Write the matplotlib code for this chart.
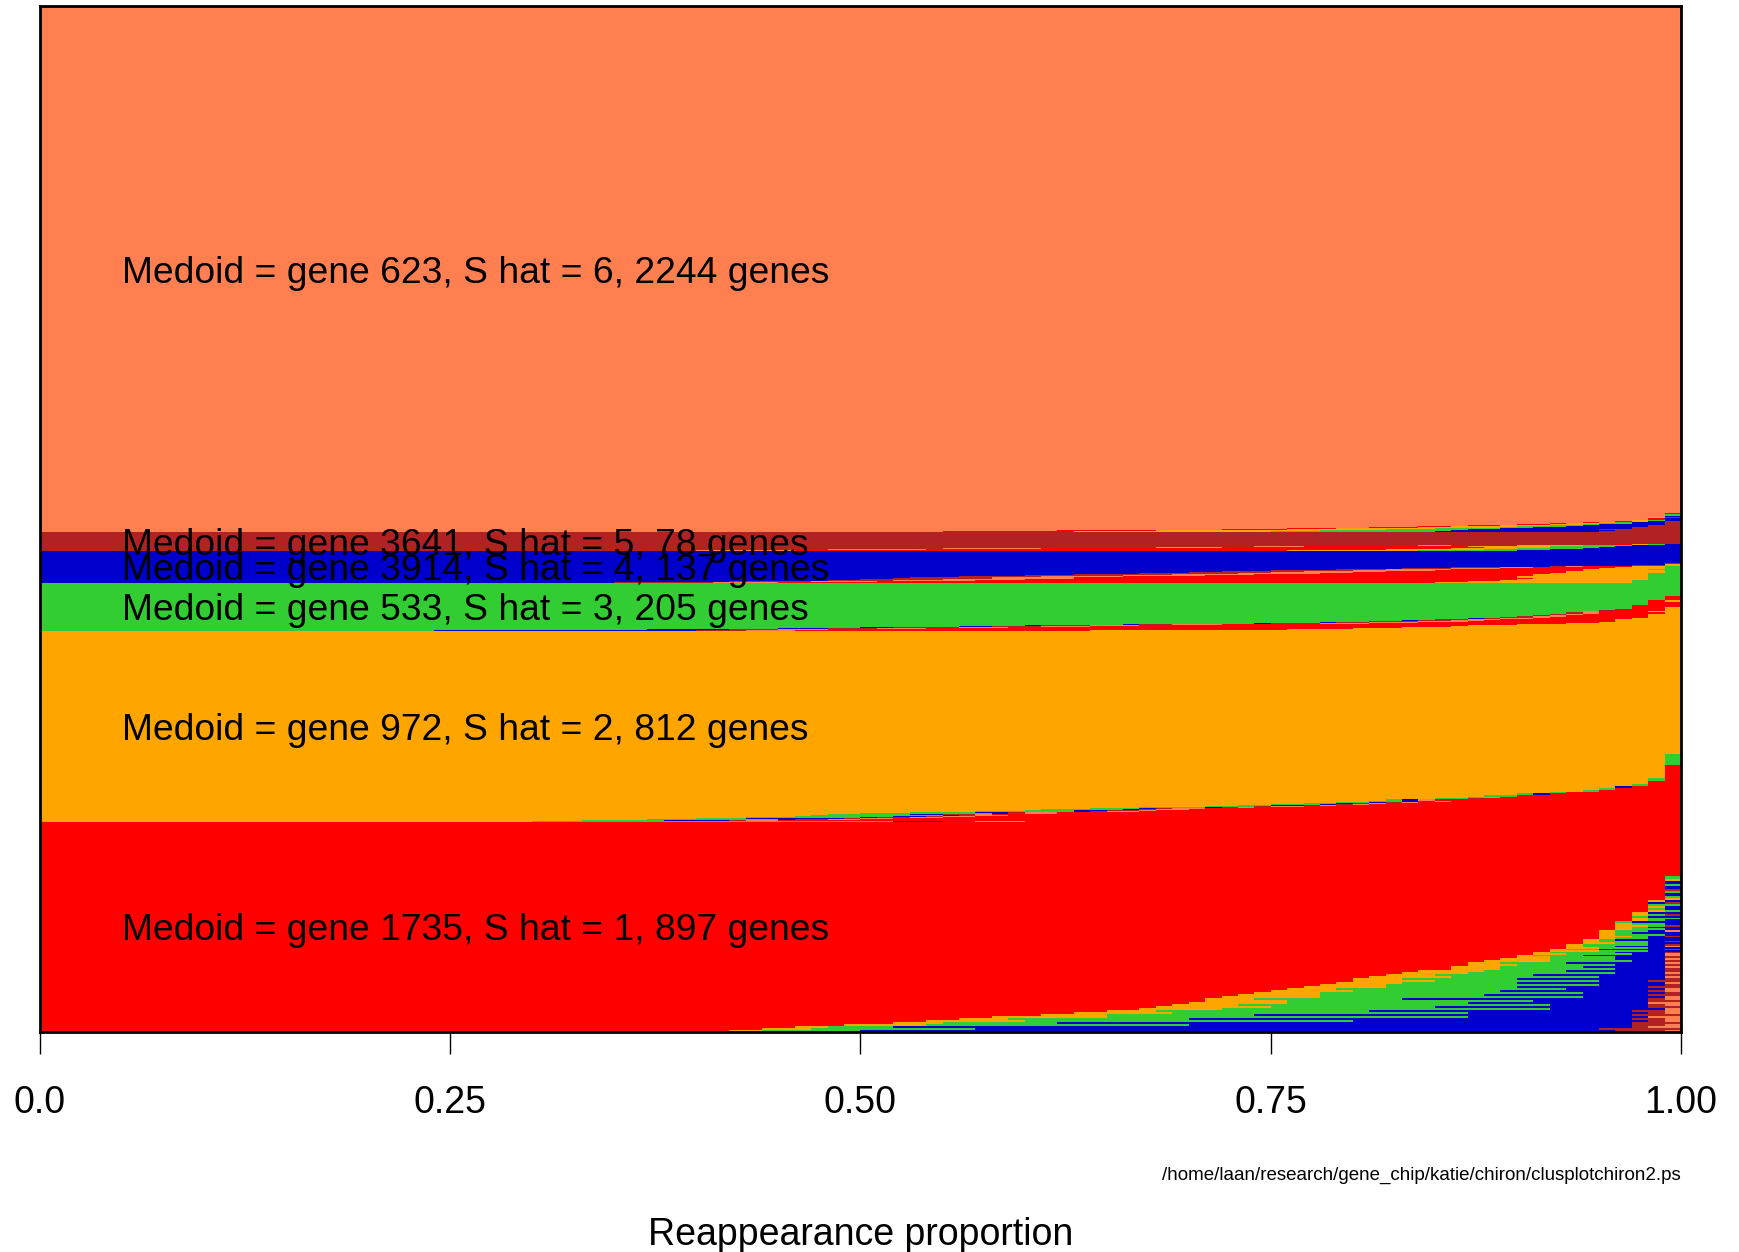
import matplotlib
matplotlib.use("Agg")
import matplotlib.pyplot as plt

plt.rcParams['font.family'] = ['Liberation Sans', 'DejaVu Sans']

# cluster order from bottom: S hat = 1 .. 6
cluster_colors = ['#FF0000', '#FFA500', '#32CD32', '#0000CD', '#B22222', '#FF7F50']
medoids = [1735, 972, 533, 3914, 3641, 623]
s_hat = [1, 2, 3, 4, 5, 6]
sizes = [897, 812, 205, 137, 78, 2244]

# each row: [number of genes, % in cluster 1, 2, 3, 4, 5, 6]  (bottom row first)
rows_c1 = [
    [9, 42, 2, 6, 46, 3, 1], [8, 44, 3, 10, 38, 5, 0], [9, 46, 2, 4, 45, 1, 2],
    [8, 49, 5, 16, 27, 2, 1], [9, 52, 3, 7, 35, 3, 0], [8, 54, 6, 20, 18, 1, 1],
    [9, 56, 3, 11, 27, 2, 1], [8, 58, 7, 22, 11, 0, 2], [9, 61, 4, 9, 23, 3, 0],
    [8, 63, 6, 18, 11, 1, 1], [9, 65, 3, 13, 16, 2, 1], [8, 67, 5, 20, 7, 0, 1],
    [9, 68, 7, 10, 13, 2, 0], [8, 69, 4, 19, 6, 1, 1], [9, 70, 6, 11, 11, 0, 2],
    [8, 71, 5, 15, 7, 2, 0], [9, 71, 3, 9, 15, 1, 1], [8, 72, 6, 16, 5, 0, 1],
    [9, 73, 5, 10, 10, 2, 0], [8, 74, 4, 16, 5, 1, 0], [9, 75, 5, 9, 9, 1, 1],
    [8, 76, 3, 14, 6, 0, 1], [9, 77, 5, 8, 8, 2, 0], [8, 78, 4, 13, 4, 1, 0],
    [9, 79, 4, 7, 9, 0, 1], [8, 80, 5, 10, 3, 2, 0], [9, 80, 3, 7, 9, 1, 0],
    [8, 81, 5, 9, 4, 0, 1], [9, 82, 3, 6, 8, 1, 0], [8, 83, 4, 9, 3, 0, 1],
    [9, 84, 4, 5, 6, 1, 0], [8, 86, 3, 7, 3, 1, 0], [9, 86, 3, 5, 5, 0, 1],
    [8, 87, 3, 6, 3, 1, 0], [9, 87, 2, 4, 6, 0, 1], [8, 88, 4, 5, 2, 1, 0],
    [9, 89, 3, 4, 3, 0, 1],
    [7, 90, 2, 4, 3, 1, 0], [6, 90, 1, 3, 5, 0, 1],
    [7, 91, 2, 4, 2, 0, 1], [6, 91, 1, 4, 3, 1, 0],
    [7, 92, 3, 3, 2, 0, 0], [6, 92, 1, 2, 4, 1, 0],
    [7, 93, 2, 3, 2, 0, 0], [7, 93, 1, 2, 3, 0, 1], [7, 93, 1, 4, 1, 1, 0],
    [7, 94, 2, 2, 2, 0, 0], [7, 94, 1, 3, 1, 1, 0], [7, 94, 1, 1, 4, 0, 0],
    [8, 95, 1, 2, 2, 0, 0], [7, 95, 2, 1, 1, 1, 0], [8, 95, 1, 3, 1, 0, 0],
    [7, 95, 1, 1, 3, 0, 0], [8, 95, 1, 2, 1, 0, 1],
    [8, 96, 1, 2, 1, 0, 0], [7, 96, 1, 1, 2, 0, 0], [8, 96, 2, 1, 0, 1, 0],
    [7, 96, 1, 2, 1, 0, 0], [8, 96, 0, 1, 3, 0, 0],
    [8, 97, 1, 1, 1, 0, 0], [7, 97, 1, 2, 0, 0, 0], [8, 97, 0, 1, 2, 0, 0],
    [7, 97, 1, 1, 0, 1, 0], [8, 97, 1, 0, 2, 0, 0],
    [9, 98, 1, 1, 0, 0, 0], [8, 98, 0, 1, 1, 0, 0], [9, 98, 1, 0, 1, 0, 0],
    [8, 98, 0, 2, 0, 0, 0], [9, 98, 0, 0, 1, 1, 0], [8, 98, 1, 0, 1, 0, 0],
    [10, 99, 1, 0, 0, 0, 0], [10, 99, 0, 1, 0, 0, 0], [10, 99, 0, 0, 1, 0, 0],
    [10, 99, 0, 1, 0, 0, 0], [10, 99, 0, 0, 0, 1, 0], [10, 99, 0, 0, 1, 0, 0],
    [10, 99, 0, 1, 0, 0, 0], [11, 99, 0, 0, 1, 0, 0], [10, 99, 1, 0, 0, 0, 0],
    [11, 99, 0, 1, 0, 0, 0],
    [234, 100, 0, 0, 0, 0, 0],
]

rows_c2 = [
    [4, 40, 30, 22, 3, 2, 3], [4, 55, 33, 5, 4, 1, 2], [4, 50, 37, 8, 1, 2, 2],
    [4, 48, 40, 3, 6, 1, 2], [4, 45, 43, 7, 1, 2, 2], [4, 43, 46, 6, 2, 1, 2],
    [4, 41, 47, 8, 1, 1, 2], [4, 42, 48, 5, 2, 2, 1], [4, 38, 50, 8, 1, 1, 2],
    [4, 38, 53, 4, 2, 1, 2], [4, 33, 57, 6, 1, 1, 2], [4, 32, 60, 3, 2, 2, 1],
    [4, 30, 61, 5, 1, 1, 2], [4, 29, 64, 3, 1, 1, 2], [4, 26, 67, 4, 1, 1, 1],
    [4, 24, 69, 3, 2, 1, 1], [4, 23, 71, 3, 0, 1, 2], [4, 21, 73, 2, 2, 1, 1],
    [4, 19, 75, 3, 1, 1, 1], [4, 18, 77, 2, 1, 1, 1], [4, 16, 79, 2, 1, 1, 1],
    [4, 14, 81, 2, 1, 1, 1],
    [6, 15, 82, 1, 1, 0, 1], [6, 12, 85, 2, 0, 1, 0], [6, 11, 87, 1, 0, 0, 1],
    [7, 10, 88, 2, 0, 0, 0], [8, 8, 90, 1, 1, 0, 0], [7, 7, 92, 1, 0, 0, 0],
    [7, 5, 94, 1, 0, 0, 0], [8, 4, 95, 1, 0, 0, 0], [8, 3, 96, 0, 1, 0, 0],
    [8, 2, 97, 1, 0, 0, 0], [12, 2, 98, 0, 0, 0, 0], [15, 1, 98, 1, 0, 0, 0],
    [55, 1, 99, 0, 0, 0, 0], [47, 0, 99, 1, 0, 0, 0],
    [524, 0, 100, 0, 0, 0, 0],
]

rows_c3 = [
    [4, 18, 36, 24, 16, 3, 3], [4, 28, 24, 37, 5, 3, 3], [4, 26, 20, 45, 3, 3, 3],
    [4, 24, 17, 50, 2, 4, 3], [4, 22, 14, 56, 2, 3, 3], [4, 20, 13, 60, 1, 3, 3],
    [4, 18, 10, 66, 1, 2, 3], [4, 15, 7, 71, 1, 3, 3], [4, 12, 7, 74, 1, 3, 3],
    [4, 11, 5, 78, 1, 2, 3], [4, 9, 4, 81, 0, 3, 3], [4, 8, 4, 83, 1, 2, 2],
    [4, 7, 4, 85, 0, 2, 2], [4, 6, 3, 87, 1, 1, 2], [4, 6, 2, 89, 0, 2, 1],
    [4, 5, 2, 90, 0, 1, 2], [5, 5, 2, 91, 0, 1, 1], [5, 4, 2, 92, 0, 1, 1],
    [5, 4, 1, 93, 0, 1, 1], [5, 3, 2, 94, 0, 0, 1], [5, 3, 1, 95, 0, 1, 0],
    [6, 3, 1, 96, 0, 0, 0], [6, 2, 1, 97, 0, 0, 0], [8, 3, 0, 97, 0, 0, 0],
    [14, 2, 0, 98, 0, 0, 0], [8, 1, 1, 98, 0, 0, 0], [20, 1, 0, 99, 0, 0, 0],
    [54, 0, 0, 100, 0, 0, 0],
]

rows_c4 = [
    [4, 40, 12, 3, 35, 6, 4], [4, 36, 10, 3, 42, 5, 4], [4, 32, 8, 3, 48, 4, 5],
    [4, 30, 8, 2, 50, 5, 5], [4, 28, 7, 2, 52, 6, 5], [4, 27, 8, 2, 53, 5, 5],
    [4, 24, 8, 2, 56, 5, 5], [4, 20, 7, 2, 60, 6, 5], [4, 17, 7, 2, 63, 6, 5],
    [4, 16, 6, 2, 65, 6, 5], [4, 14, 6, 2, 67, 6, 5], [4, 13, 6, 1, 70, 5, 5],
    [4, 11, 6, 1, 72, 5, 5], [4, 9, 5, 1, 75, 5, 5], [4, 8, 4, 2, 79, 3, 4],
    [4, 6, 4, 1, 83, 3, 3], [4, 5, 3, 1, 86, 3, 2], [4, 3, 2, 1, 92, 1, 1],
    [4, 1, 1, 0, 97, 1, 0], [5, 0, 1, 0, 99, 0, 0], [5, 1, 0, 0, 99, 0, 0],
    [51, 0, 0, 0, 100, 0, 0],
]

rows_c5 = [
    [3, 30, 8, 6, 10, 40, 6], [3, 28, 6, 4, 8, 48, 6], [4, 25, 4, 4, 6, 55, 6],
    [4, 20, 4, 3, 6, 62, 5], [4, 16, 4, 3, 5, 68, 4], [4, 10, 5, 4, 4, 74, 3],
    [4, 4, 4, 3, 3, 84, 2], [4, 1, 1, 1, 1, 96, 0],
    [48, 0, 0, 0, 0, 100, 0],
]

rows_c6 = [
    [3, 10, 20, 16, 4, 5, 45], [3, 8, 12, 10, 10, 5, 55], [3, 6, 10, 8, 10, 4, 62],
    [3, 5, 6, 6, 10, 5, 68], [4, 4, 6, 5, 8, 5, 72], [4, 3, 6, 4, 8, 3, 76],
    [4, 3, 5, 2, 6, 3, 81], [4, 2, 4, 3, 5, 2, 84], [4, 2, 3, 2, 4, 2, 87],
    [4, 2, 2, 1, 4, 1, 90], [4, 1, 2, 2, 2, 1, 92], [4, 1, 1, 1, 2, 1, 94],
    [5, 1, 1, 0, 1, 1, 96], [5, 0, 1, 1, 1, 0, 97], [6, 1, 0, 0, 1, 0, 98],
    [6, 0, 1, 0, 0, 1, 98], [6, 0, 0, 0, 1, 0, 99], [5, 0, 0, 1, 0, 0, 99],
    [5, 0, 0, 0, 0, 1, 99],
    [2162, 0, 0, 0, 0, 0, 100],
]

cluster_rows = [rows_c1, rows_c2, rows_c3, rows_c4, rows_c5, rows_c6]
x_ticks = [0.0, 0.25, 0.50, 0.75, 1.00]
x_tick_labels = ['0.0', '0.25', '0.50', '0.75', '1.00']
x_label = 'Reappearance proportion'
footnote = '/home/laan/research/gene_chip/katie/chiron/clusplotchiron2.ps'

W, H = 1740, 1252
fig = plt.figure(figsize=(W / 100, H / 100), dpi=100)
ax = fig.add_axes([40 / W, 1 - 1032 / H, 1641 / W, 1026 / H])

n_clusters = len(cluster_rows)
y0 = 0
mids = []
for k, rows in enumerate(cluster_rows):
    start = y0
    for row in rows:
        count = row[0]
        props = row[1:]
        total = float(sum(props))
        left = 0.0
        for step in range(n_clusters):
            j = (k + step) % n_clusters
            w = props[j] / total
            if w > 0:
                ax.barh(y0, w, left=left, height=count, align='edge',
                        color=cluster_colors[j], linewidth=0, antialiased=False)
                left += w
        y0 += count
    mids.append((start + y0) / 2.0)

ax.set_xlim(0, 1)
ax.set_ylim(0, y0)
ax.set_yticks([])
ax.set_xticks(x_ticks)
ax.set_xticklabels(x_tick_labels)
ax.tick_params(axis='x', length=16, width=1, pad=22.5, labelsize=27, color='black')
for sp in ax.spines.values():
    sp.set_linewidth(2)
    sp.set_color('black')
    sp.set_zorder(5)

for k in range(n_clusters):
    label = 'Medoid = gene %d, S hat = %d, %d genes' % (medoids[k], s_hat[k], sizes[k])
    ax.annotate(label, xy=(0.05, mids[k]), xytext=(0, -9.7), textcoords='offset points',
                ha='left', va='baseline', fontsize=26.8, color='black', zorder=6)

fig.text(860.5 / W, (H - 1245) / H, x_label, ha='center', va='baseline', fontsize=27)
fig.text(1681 / W, (H - 1180) / H, footnote, ha='right', va='baseline', fontsize=13.5)

fig.savefig('out.png', dpi=100)
